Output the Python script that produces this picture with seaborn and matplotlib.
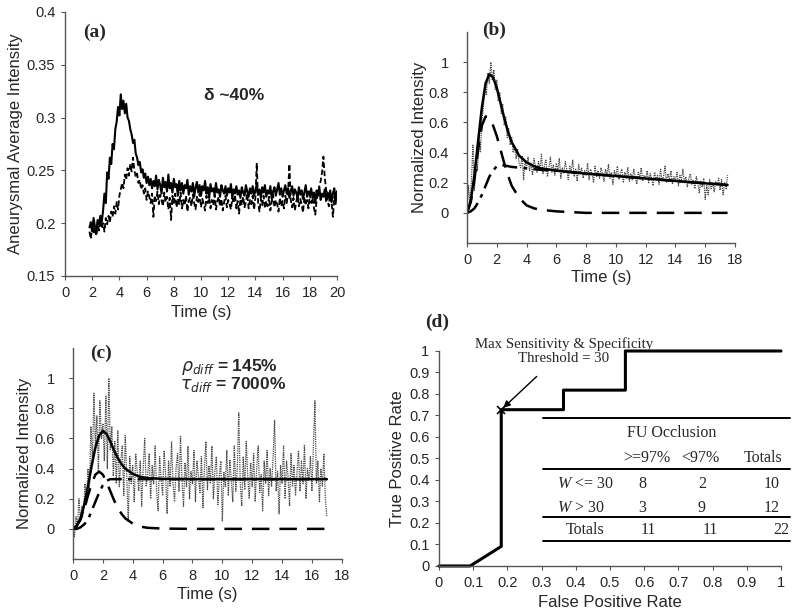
import numpy as np
import matplotlib
matplotlib.use("Agg")
import matplotlib.pyplot as plt
from matplotlib.ticker import FormatStrFormatter, MultipleLocator
import seaborn as sns

# ---- (a) aneurysmal average intensity, two acquisitions (sampled every 0.1 s from 1.8 s)
time_a = np.linspace(1.8, 20.0, 183)
solid_a = [
    .196, .201, .192, .205, .197, .190, .203, .199, .207, .201,
    .212, .228, .219, .248, .242, .262, .256, .275, .270, .289,
    .296, .310, .302, .322, .308, .316, .304, .313, .300, .297,
    .289, .284, .276, .279, .266, .262, .255, .258, .248, .251,
    .243, .247, .238, .244, .236, .242, .233, .240, .235, .245,
    .232, .241, .236, .228, .243, .234, .239, .230, .246, .233,
    .238, .229, .242, .234, .237, .226, .240, .231, .238, .228,
    .236, .233, .241, .227, .235, .230, .238, .225, .234, .239,
    .229, .236, .226, .235, .231, .240, .228, .234, .224, .237,
    .230, .233, .227, .238, .229, .232, .225, .236, .231, .228,
    .235, .226, .233, .229, .237, .224, .232, .228, .235, .227,
    .231, .224, .234, .229, .226, .236, .230, .225, .233, .228,
    .235, .226, .231, .237, .227, .232, .224, .234, .229, .236,
    .225, .231, .228, .235, .223, .230, .234, .226, .232, .238,
    .227, .233, .225, .231, .236, .228, .233, .224, .230, .235,
    .226, .232, .229, .224, .234, .227, .231, .223, .229, .236,
    .225, .230, .227, .233, .224, .229, .219, .231, .226, .234,
    .222, .228, .225, .232, .221, .229, .224, .231, .220, .228,
    .233, .222, .230,
]
dashed_a = [
    .192, .185, .199, .190, .196, .188, .201, .193, .203, .195,
    .200, .192, .205, .199, .207, .201, .211, .206, .216, .209,
    .220, .213, .226, .232, .238, .233, .246, .241, .252, .245,
    .256, .249, .262, .250, .244, .247, .238, .241, .232, .236,
    .228, .233, .222, .230, .225, .219, .228, .206, .226, .221,
    .230, .218, .227, .222, .216, .229, .220, .225, .213, .224,
    .203, .226, .219, .228, .215, .223, .218, .229, .214, .222,
    .217, .226, .211, .221, .224, .216, .227, .219, .213, .225,
    .220, .228, .215, .223, .218, .212, .226, .219, .224, .214,
    .222, .217, .227, .213, .221, .225, .216, .223, .212, .220,
    .226, .215, .222, .218, .213, .224, .219, .227, .214, .221,
    .209, .223, .217, .225, .215, .220, .228, .214, .222, .218,
    .226, .213, .224, .257, .219, .211, .223, .217, .226, .214,
    .221, .216, .225, .212, .220, .227, .215, .222, .218, .211,
    .224, .216, .221, .214, .226, .219, .229, .256, .222, .215,
    .224, .212, .220, .226, .216, .223, .218, .210, .225, .217,
    .222, .214, .227, .219, .224, .215, .208, .221, .228, .235,
    .240, .248, .263, .243, .232, .222, .216, .227, .219, .206,
    .225, .218, .232,
]

# ---- (b) normalized intensity: measured trace + two-compartment fit
time_b = np.linspace(0.0, 17.5, 176)
measured_b = [
    0.00, 0.18, 0.06, 0.22, 0.45, 0.15, 0.38, 0.28, 0.52, 0.40,
    0.62, 0.70, 0.85, 0.78, 0.93, 0.86, 1.00, 0.88, 0.95, 0.82,
    0.88, 0.74, 0.80, 0.66, 0.72, 0.58, 0.64, 0.50, 0.56, 0.45,
    0.50, 0.40, 0.44, 0.36, 0.42, 0.33, 0.30, 0.38, 0.22, 0.34,
    0.30, 0.37, 0.28, 0.33, 0.25, 0.36, 0.31, 0.27, 0.34, 0.29,
    0.39, 0.26, 0.31, 0.35, 0.24, 0.30, 0.37, 0.27, 0.32, 0.25,
    0.33, 0.28, 0.36, 0.23, 0.30, 0.26, 0.34, 0.29, 0.22, 0.31,
    0.27, 0.35, 0.24, 0.29, 0.21, 0.32, 0.26, 0.30, 0.23, 0.28,
    0.25, 0.33, 0.22, 0.29, 0.26, 0.20, 0.31, 0.24, 0.28, 0.23,
    0.30, 0.26, 0.21, 0.29, 0.25, 0.32, 0.23, 0.27, 0.19, 0.28,
    0.24, 0.31, 0.22, 0.26, 0.29, 0.20, 0.27, 0.23, 0.30, 0.21,
    0.26, 0.22, 0.29, 0.24, 0.19, 0.27, 0.23, 0.30, 0.21, 0.25,
    0.22, 0.28, 0.20, 0.26, 0.23, 0.18, 0.27, 0.22, 0.25, 0.19,
    0.29, 0.21, 0.24, 0.31, 0.20, 0.26, 0.22, 0.28, 0.19, 0.24,
    0.21, 0.27, 0.18, 0.25, 0.22, 0.29, 0.20, 0.24, 0.17, 0.23,
    0.26, 0.19, 0.22, 0.16, 0.24, 0.20, 0.13, 0.21, 0.17, 0.23,
    0.09, 0.18, 0.12, 0.22, 0.16, 0.20, 0.14, 0.21, 0.18, 0.23,
    0.15, 0.22, 0.12, 0.20, 0.16, 0.25,
]
fit_time_b = [0, 0.25, 0.5, 0.75, 1.0, 1.25, 1.5, 1.75, 2.0, 2.25, 2.5, 2.75, 3.0,
              3.5, 4.0, 4.5, 5.0, 6.0, 7.0, 8.0, 10.0, 12.0, 14.0, 16.0, 17.5]
fit_total_b = [0.0, 0.08, 0.25, 0.48, 0.70, 0.86, 0.92, 0.90, 0.83, 0.73, 0.63, 0.54, 0.47,
               0.38, 0.335, 0.31, 0.295, 0.28, 0.27, 0.26, 0.245, 0.228, 0.212, 0.196, 0.185]
fit_fast_b = [0.0, 0.07, 0.22, 0.42, 0.58, 0.64, 0.63, 0.58, 0.51, 0.42, 0.33, 0.25, 0.18,
              0.10, 0.05, 0.03, 0.02, 0.01, 0.005, 0.0, 0.0, 0.0, 0.0, 0.0, 0.0]
fit_slow_b = [0.0, 0.01, 0.03, 0.07, 0.12, 0.18, 0.24, 0.28, 0.31, 0.315, 0.315, 0.31, 0.305,
              0.30, 0.295, 0.29, 0.285, 0.28, 0.27, 0.26, 0.245, 0.228, 0.212, 0.196, 0.185]

# ---- (c) noisier case
time_c = np.linspace(0.0, 17.0, 171)
measured_c = [
    0.00, -0.05, 0.08, 0.02, 0.20, 0.05, 0.15, 0.10, 0.30, 0.18,
    0.40, 0.25, 0.68, 0.45, 0.90, 0.55, 0.75, 0.38, 0.85, 0.60,
    0.70, 0.45, 0.88, 0.40, 1.00, 0.52, 0.68, 0.35, 0.58, 0.30,
    0.65, 0.28, 0.45, 0.55, 0.22, 0.62, 0.35, 0.05, 0.48, 0.30,
    0.42, 0.18, 0.50, 0.38, 0.25, 0.45, 0.15, 0.40, 0.60, 0.28,
    0.35, 0.50, 0.20, 0.42, 0.30, 0.55, 0.25, 0.12, 0.48, 0.33,
    0.22, 0.52, 0.36, 0.10, 0.45, 0.28, 0.58, 0.30, 0.18, 0.40,
    0.50, 0.25, 0.62, 0.32, 0.15, 0.44, 0.28, 0.55, 0.20, 0.38,
    0.30, 0.52, 0.18, 0.45, 0.35, 0.24, 0.48, 0.14, 0.40, 0.58,
    0.26, 0.42, 0.30, 0.55, 0.20, 0.38, 0.48, 0.16, 0.35, 0.45,
    0.05, 0.38, 0.28, 0.52, 0.22, 0.46, 0.32, 0.18, 0.55, 0.25,
    0.40, 0.77, 0.30, 0.15, 0.48, 0.26, 0.58, 0.35, 0.20, 0.44,
    0.28, 0.50, 0.18, 0.40, 0.55, 0.24, 0.36, 0.12, 0.45, 0.30,
    0.52, 0.22, 0.40, 0.28, 0.48, 0.72, 0.25, 0.38, 0.10, 0.42,
    0.30, 0.55, 0.20, 0.45, 0.35, 0.15, 0.50, 0.28, 0.42, 0.22,
    0.38, 0.52, 0.25, 0.45, 0.30, 0.56, 0.20, 0.40, 0.32, 0.48,
    0.25, 0.55, 0.85, 0.30, 0.45, 0.18, 0.40, 0.28, 0.50, 0.20,
    0.08,
]
fit_time_c = [0, 0.25, 0.5, 0.75, 1.0, 1.25, 1.5, 1.75, 2.0, 2.25, 2.5, 2.75, 3.0,
              3.25, 3.5, 4.0, 4.5, 5.0, 6.0, 8.0, 10.0, 12.0, 14.0, 16.0, 17.0]
fit_total_c = [0.0, 0.02, 0.07, 0.16, 0.28, 0.42, 0.54, 0.62, 0.65, 0.63, 0.58, 0.52, 0.47,
               0.43, 0.40, 0.365, 0.345, 0.337, 0.332, 0.33, 0.33, 0.33, 0.33, 0.33, 0.33]
fit_fast_c = [0.0, 0.02, 0.06, 0.13, 0.22, 0.30, 0.36, 0.38, 0.36, 0.31, 0.25, 0.19, 0.14,
              0.10, 0.07, 0.035, 0.015, 0.007, 0.002, 0.0, 0.0, 0.0, 0.0, 0.0, 0.0]
fit_slow_c = [0.0, 0.0, 0.01, 0.03, 0.06, 0.12, 0.18, 0.24, 0.29, 0.32, 0.33, 0.33, 0.33,
              0.33, 0.33, 0.33, 0.33, 0.33, 0.33, 0.33, 0.33, 0.33, 0.33, 0.33, 0.33]

# ---- (d) ROC curve and contingency table
roc_fpr = [0.0, 0.091, 0.182, 0.182, 0.364, 0.364, 0.545, 0.545, 1.0]
roc_tpr = [0.0, 0.0, 0.091, 0.727, 0.727, 0.818, 0.818, 1.0, 1.0]
best_fpr, best_tpr = 0.182, 0.727
table_cols = [">=97%", "<97%", "Totals"]
table_rows = [r"$W$ <= 30", r"$W$ > 30"]
table_counts = [[8, 2, 10], [3, 9, 12]]
table_totals = [11, 11, 22]

sns.set_style("ticks")
plt.rcParams["font.family"] = ["Liberation Sans", "DejaVu Sans"]
plt.rcParams["mathtext.fontset"] = "custom"
plt.rcParams["mathtext.it"] = "Liberation Serif:italic"
plt.rcParams["mathtext.rm"] = "Liberation Serif"

SERIF = "Liberation Serif"
SPINE = "#555555"
TRACE = "#4a4a4a"
TICK_FS = 10.5
LABEL_FS = 12

fig = plt.figure(figsize=(8, 6.16), dpi=100)
ax_a = fig.add_axes([0.08125, 0.552, 0.34, 0.4286])
ax_b = fig.add_axes([0.58375, 0.6055, 0.335, 0.3425])
ax_c = fig.add_axes([0.09125, 0.0925, 0.336, 0.3425])
ax_d = fig.add_axes([0.54875, 0.0812, 0.4275, 0.349])


def style(ax, pad):
    sns.despine(ax=ax)
    for s in ("left", "bottom"):
        ax.spines[s].set_color(SPINE)
        ax.spines[s].set_linewidth(1.0)
    ax.tick_params(direction="out", length=3, width=0.8, color=SPINE,
                   labelsize=TICK_FS, pad=pad)
    ax.xaxis.set_major_formatter(FormatStrFormatter("%g"))
    ax.yaxis.set_major_formatter(FormatStrFormatter("%g"))


def labels(ax, xlab, ylab, xy_x, xy_y):
    ax.set_xlabel(xlab, fontsize=LABEL_FS)
    ax.set_ylabel(ylab, fontsize=LABEL_FS)
    ax.xaxis.set_label_coords(0.5, xy_y)
    ax.yaxis.set_label_coords(xy_x, 0.5)


# (a)
sns.lineplot(x=time_a, y=dashed_a, ax=ax_a, color="k", lw=1.3,
             linestyle=(0, (3, 1.5)))
sns.lineplot(x=time_a, y=solid_a, ax=ax_a, color="k", lw=1.5)
ax_a.set_xlim(0, 20)
ax_a.set_ylim(0.15, 0.4)
ax_a.xaxis.set_major_locator(MultipleLocator(2))
ax_a.yaxis.set_major_locator(MultipleLocator(0.05))
style(ax_a, 4)
labels(ax_a, "Time (s)", "Aneurysmal Average Intensity", -0.154, -0.11)
ax_a.text(0.066, 0.924, "(a)", transform=ax_a.transAxes, family=SERIF,
          fontweight="bold", fontsize=14, va="center")
ax_a.text(0.62, 0.685, "δ ~40%", transform=ax_a.transAxes,
          fontweight="bold", fontsize=12.5, ha="center", va="center")

# (b) and (c)
panels = [
    (ax_b, time_b, measured_b, fit_time_b, fit_total_b, fit_fast_b, fit_slow_b,
     "(b)", (0.056, 1.009), (-0.149, -0.128)),
    (ax_c, time_c, measured_c, fit_time_c, fit_total_c, fit_fast_c, fit_slow_c,
     "(c)", (0.063, 0.976), (-0.152, -0.133)),
]
for ax, tm, meas, ft, tot, fast, slow, lab, lab_xy, lbl_xy in panels:
    sns.lineplot(x=tm, y=meas, ax=ax, color=TRACE, lw=0.9, linestyle=(0, (1, 0.8)))
    sns.lineplot(x=ft, y=slow, ax=ax, color="k", lw=1.8, linestyle=(0, (6, 2.5, 1.5, 2.5)))
    sns.lineplot(x=ft, y=fast, ax=ax, color="k", lw=1.8, linestyle=(0, (7, 4)))
    sns.lineplot(x=ft, y=tot, ax=ax, color="k", lw=1.8)
    ax.set_xlim(0, 18)
    ax.set_ylim(-0.2, 1.2)
    ax.set_xticks(range(0, 19, 2))
    ax.set_yticks([0, 0.2, 0.4, 0.6, 0.8, 1.0])
    style(ax, 4)
    ax.tick_params(axis="y", pad=10)
    labels(ax, "Time (s)", "Normalized Intensity", lbl_xy[0], lbl_xy[1])
    ax.text(lab_xy[0], lab_xy[1], lab, transform=ax.transAxes, family=SERIF,
            fontweight="bold", fontsize=14, va="center")

ax_c.text(0.584, 0.91, r"$\rho_{diff}$ = 145%", transform=ax_c.transAxes,
          fontweight="bold", fontsize=12.5, ha="center", va="center",
          math_fontfamily="dejavusans")
ax_c.text(0.595, 0.825, r"$\tau_{diff}$ = 7000%", transform=ax_c.transAxes,
          fontweight="bold", fontsize=12.5, ha="center", va="center",
          math_fontfamily="dejavusans")

# (d)
sns.lineplot(x=roc_fpr, y=roc_tpr, ax=ax_d, color="k", lw=2.2,
             estimator=None, sort=False, clip_on=False)
ax_d.plot([best_fpr], [best_tpr], marker="x", color="k", ms=6, mew=1.2, clip_on=False)
ax_d.set_xlim(0, 1)
ax_d.set_ylim(0, 1)
ax_d.xaxis.set_major_locator(MultipleLocator(0.1))
ax_d.yaxis.set_major_locator(MultipleLocator(0.1))
style(ax_d, 4)
labels(ax_d, "False Positive Rate", "True Positive Rate", -0.1, -0.135)
ax_d.text(-0.041, 1.135, "(d)", transform=ax_d.transAxes, family=SERIF,
          fontweight="bold", fontsize=14, va="center")
ax_d.annotate("Max Sensitivity & Specificity\nThreshold = 30",
              xy=(best_fpr, best_tpr), xytext=(0.365, 1.0),
              textcoords=("data", "axes fraction"), family=SERIF, fontsize=10.7,
              ha="center", va="center", linespacing=1.05,
              arrowprops=dict(arrowstyle="-|>", color="k", lw=1.0,
                              shrinkA=9, shrinkB=2, mutation_scale=10))

# contingency table drawn inside (d)
tr = ax_d.transAxes
for yl in (0.688, 0.451, 0.228, 0.116):
    ax_d.plot([0.304, 1.026], [yl, yl], transform=tr, color="k", lw=1.4, clip_on=False)
tkw = dict(transform=tr, family=SERIF, fontsize=11.5, va="center", clip_on=False)
ax_d.text(0.681, 0.619, "FU Occlusion", ha="center", **tkw)
for xc, name in zip((0.608, 0.763, 0.947), table_cols):
    ax_d.text(xc, 0.502, name, ha="center", **tkw)
for yr, name, counts in zip((0.381, 0.270), table_rows, table_counts):
    ax_d.text(0.345, yr, name, ha="left", **tkw)
    ax_d.text(0.594, yr, str(counts[0]), ha="center", **tkw)
    ax_d.text(0.769, yr, str(counts[1]), ha="center", **tkw)
    ax_d.text(0.997, yr, str(counts[2]), ha="right", **tkw)
ax_d.text(0.427, 0.167, "Totals", ha="center", **tkw)
ax_d.text(0.611, 0.167, str(table_totals[0]), ha="center", **tkw)
ax_d.text(0.792, 0.167, str(table_totals[1]), ha="center", **tkw)
ax_d.text(1.023, 0.167, str(table_totals[2]), ha="right", **tkw)

fig.savefig("out.png", dpi=100)
